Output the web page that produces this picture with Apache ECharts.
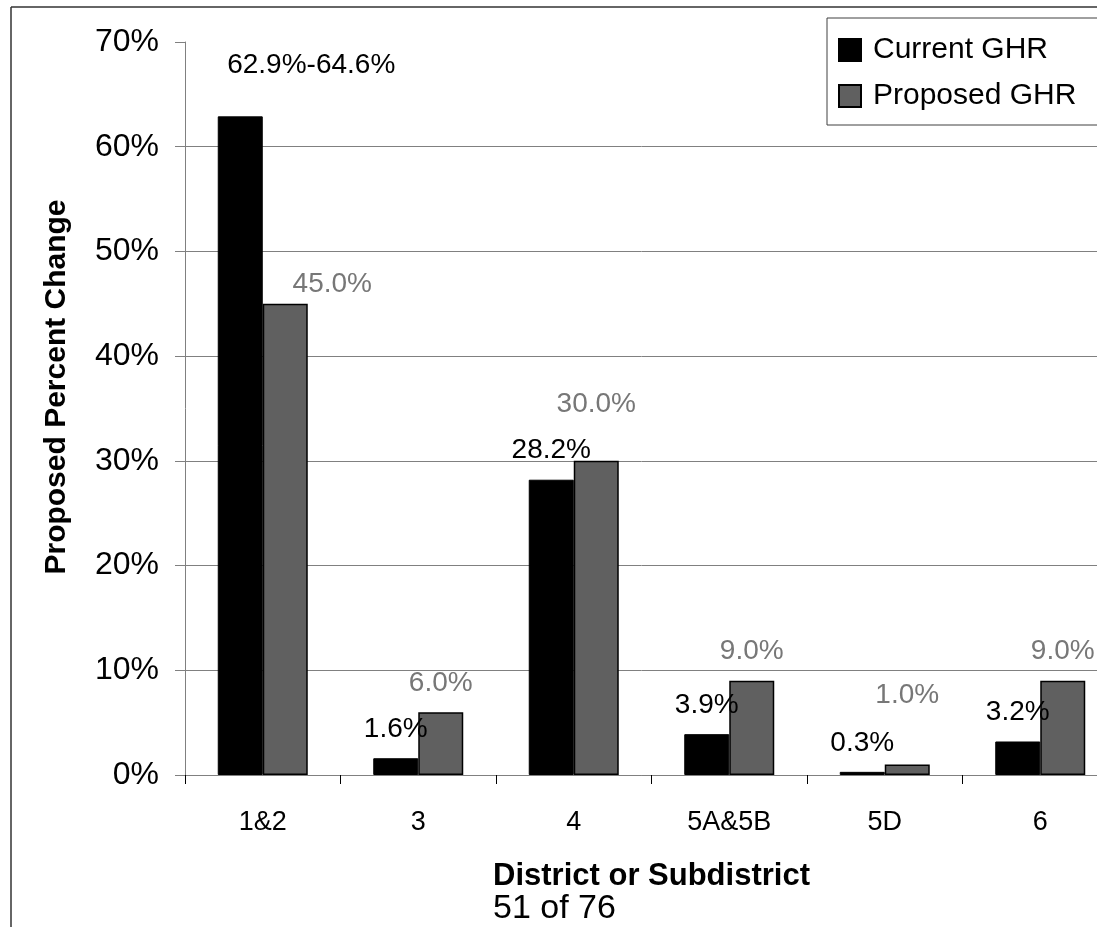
<!DOCTYPE html>
<html>
<head>
<meta charset="utf-8">
<script src="https://cdn.jsdelivr.net/npm/echarts@6/dist/echarts.min.js"></script>
<style>
html,body{margin:0;padding:0;background:#fff;}
#chart{width:1097px;height:927px;}
</style>
</head>
<body>
<div id="chart"></div>
<script>
const categories = ['1&2', '3', '4', '5A&5B', '5D', '6'];
const currentGHR = [62.9, 1.6, 28.2, 3.9, 0.3, 3.2];
const proposedGHR = [45.0, 6.0, 30.0, 9.0, 1.0, 9.0];
const currentLabels = ['62.9%-64.6%', '1.6%', '28.2%', '3.9%', '0.3%', '3.2%'];
const proposedLabels = ['45.0%', '6.0%', '30.0%', '9.0%', '1.0%', '9.0%'];
const seriesNames = ['Current GHR', 'Proposed GHR'];
const yAxisTitle = 'Proposed Percent Change';
const xAxisTitle = 'District or Subdistrict';
const pageNote = '51 of 76';

// label nudges (pixels), styling only
const currentOffsets = [[71, -22], [0, 0], [0, 0], [0, 0], [0, 0], [0, 0]];
const proposedOffsets = [[47, 9], [0, 0], [0, -28], [0, 0], [0, -40], [0, 0]];

const FONT = "'Liberation Sans', Arial, Helvetica, sans-serif";
const GRID = '#808080';

function mkData(vals, offs) {
  return vals.map((v, i) => ({ value: v, label: { offset: offs[i] } }));
}

const chart = echarts.init(document.getElementById('chart'), null, { renderer: 'canvas' });
chart.setOption({
  animation: false,
  backgroundColor: '#fff',
  textStyle: { fontFamily: FONT },
  grid: { left: 185, top: 42, width: 933, height: 733, containLabel: false, outerBoundsMode: 'none' },
  legend: {
    orient: 'vertical',
    left: 827, top: 18,
    padding: [17, 80, 14, 11],
    itemWidth: 22, itemHeight: 22, itemGap: 16,
    icon: 'rect',
    borderColor: '#404040', borderWidth: 1,
    backgroundColor: '#fff',
    textStyle: { fontSize: 30, color: '#000', fontFamily: FONT, padding: [0, 0, 0, 7] },
    data: seriesNames
  },
  xAxis: {
    type: 'category',
    data: categories,
    axisLine: { lineStyle: { color: GRID, width: 1 } },
    axisTick: { show: true, length: 9, lineStyle: { color: '#000' } },
    axisLabel: { fontSize: 27, color: '#000', margin: 34, fontFamily: FONT },
    name: xAxisTitle,
    nameLocation: 'middle',
    nameGap: 86,
    nameTextStyle: { fontSize: 31, fontWeight: 'bold', color: '#000', fontFamily: FONT }
  },
  yAxis: {
    type: 'value',
    min: 0, max: 70, interval: 10,
    axisLine: { show: true, lineStyle: { color: GRID, width: 1 } },
    axisTick: { show: true, length: 10, lineStyle: { color: GRID } },
    axisLabel: { fontSize: 32, color: '#000', margin: 26, formatter: '{value}%', fontFamily: FONT },
    splitLine: { show: true, showMaxLine: false, lineStyle: { color: GRID, width: 1 } }
  },
  series: [
    {
      name: seriesNames[0],
      type: 'bar',
      barWidth: 45,
      barGap: '0%',
      itemStyle: { color: '#000', borderColor: '#000', borderWidth: 1 },
      label: {
        show: true, position: 'top', distance: 15,
        fontSize: 28, color: '#000', fontFamily: FONT,
        formatter: p => currentLabels[p.dataIndex]
      },
      data: mkData(currentGHR, currentOffsets)
    },
    {
      name: seriesNames[1],
      type: 'bar',
      barWidth: 45,
      barGap: '0%',
      itemStyle: { color: '#606060', borderColor: '#000', borderWidth: 1.5 },
      label: {
        show: true, position: 'top', distance: 15,
        fontSize: 28, color: '#777777', fontFamily: FONT,
        formatter: p => proposedLabels[p.dataIndex]
      },
      data: mkData(proposedGHR, proposedOffsets)
    }
  ],
  graphic: [
    { type: 'line', shape: { x1: 11, y1: 7, x2: 1097, y2: 7 }, style: { stroke: '#333', lineWidth: 1.5 } },
    { type: 'line', shape: { x1: 11, y1: 7, x2: 11, y2: 927 }, style: { stroke: '#333', lineWidth: 1.5 } },
    {
      type: 'text', x: 57, y: 387, rotation: Math.PI / 2,
      style: { text: yAxisTitle, font: 'bold 30px ' + FONT, fill: '#000', textAlign: 'center', textVerticalAlign: 'middle' }
    },
    {
      type: 'text', x: 493, y: 909,
      style: { text: pageNote, font: '34px ' + FONT, fill: '#000', textAlign: 'left', textVerticalAlign: 'middle' }
    }
  ]
});
</script>
</body>
</html>
